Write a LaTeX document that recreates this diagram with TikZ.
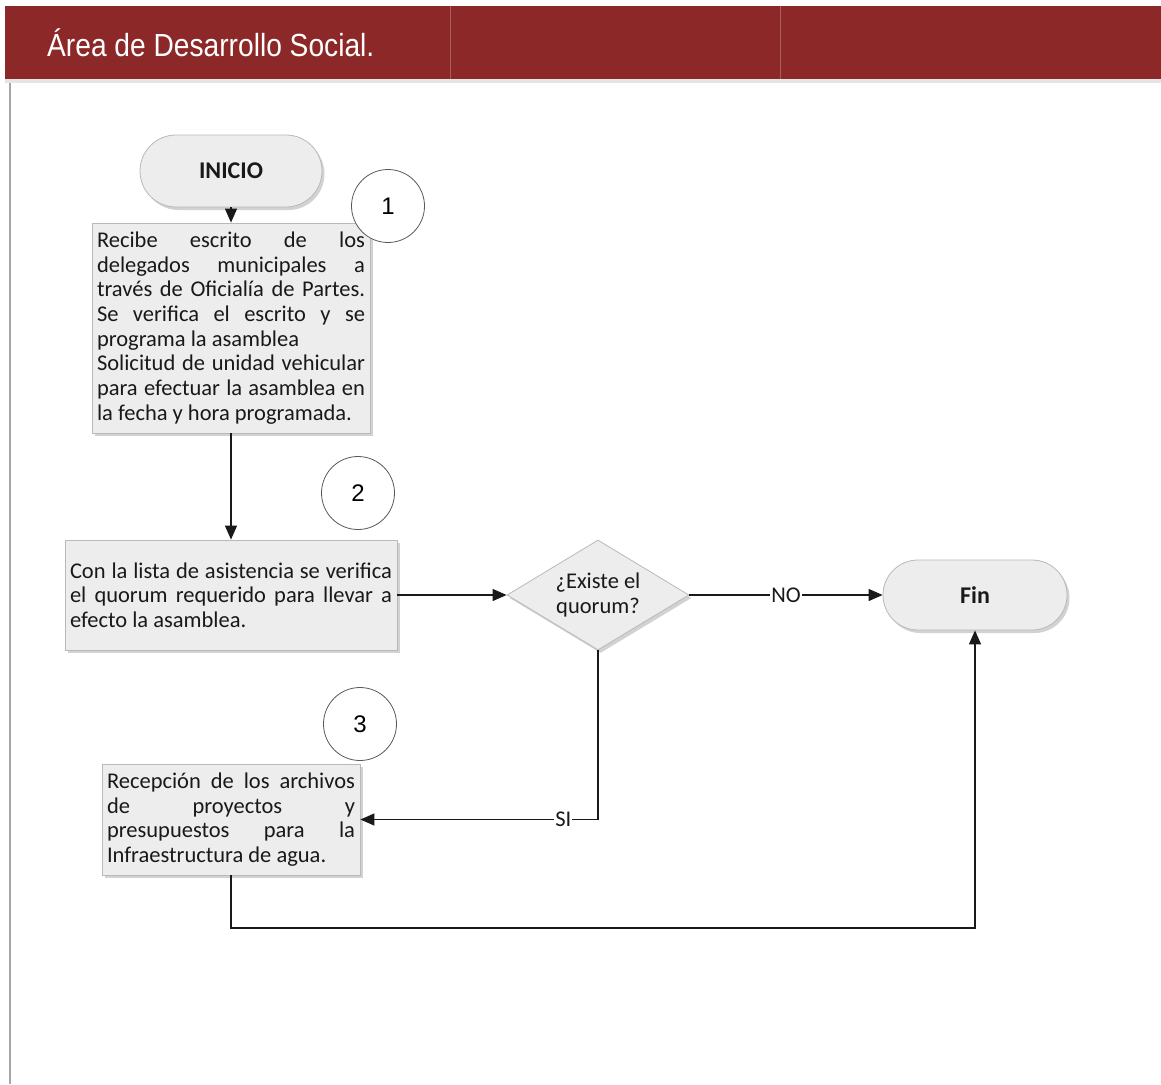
\documentclass[tikz,border=0pt]{standalone}
\usepackage{fontspec}
\setmainfont{Carlito}
\newfontfamily\titlefont[FakeStretch=0.88]{Liberation Sans}
\newfontfamily\numfont{Liberation Sans}
\usetikzlibrary{arrows.meta,shapes.geometric,shapes.misc,shadows}

\definecolor{band}{RGB}{140,40,40}
\definecolor{bandrule}{RGB}{172,92,92}
\definecolor{shapefill}{RGB}{237,237,237}
\definecolor{shapeedge}{RGB}{185,185,185}
\definecolor{ink}{RGB}{25,25,25}

\tikzset{
  body/.style={font=\fontsize{22.5}{24.7}\selectfont, text=ink},
  shaded/.style={draw=shapeedge, fill=shapefill, line width=0.8pt,
    drop shadow={shadow xshift=2.5pt, shadow yshift=-3pt, opacity=0.35, fill=black!50}},
  procbox/.style={shaded, body, rectangle, inner sep=0pt},
  terminal/.style={shaded, rounded rectangle, inner sep=0pt,
    font=\bfseries\fontsize{24}{26}\selectfont, text=ink},
  decision/.style={shaded, diamond, aspect=1.65, inner sep=0pt, body, align=center},
  stepnum/.style={circle, draw=black!65, fill=white, line width=0.8pt,
    minimum size=73pt, inner sep=0pt, font=\numfont\fontsize{24}{26}\selectfont},
  conn/.style={draw=ink, line width=1.3pt, -{Triangle[length=14pt,width=12pt]}},
  tag/.style={body, fill=white, inner sep=1pt},
}

\begin{document}
\begin{tikzpicture}[x=1pt,y=-1pt]
\useasboundingbox (0,0) rectangle (1161,1084);
\fill[white] (0,0) rectangle (1161,1084);

% title band
\fill[black!10] (5,79) rectangle (1161,83);
\fill[band] (5,6) rectangle (1161,79);
\draw[bandrule, line width=0.8pt] (450,6) -- (450,79);
\draw[bandrule, line width=0.8pt] (780,6) -- (780,79);
\node[anchor=base west, text=white, inner sep=0pt,
      font=\titlefont\fontsize{32}{36}\selectfont] (title) at (47,56) {Área de Desarrollo Social.};

% left page rule
\draw[black!35, line width=1.5pt] (10,83) -- (10,1084);

% shapes
\node[terminal, minimum width=182pt, minimum height=72pt] (inicio) at (231,171) {INICIO};

\node[procbox, minimum width=278pt, minimum height=210pt] (b1) at (231,328)
  {\parbox{268pt}{Recibe escrito de los\linebreak
   delegados municipales a\linebreak
   través de Oficialía de Partes.\linebreak
   Se verifica el escrito y se\linebreak
   programa la asamblea\\
   Solicitud de unidad vehicular\linebreak
   para efectuar la asamblea en\linebreak
   la fecha y hora programada.}};

\node[procbox, minimum width=332pt, minimum height=110pt] (b2) at (231,595)
  {\parbox{322pt}{Con la lista de asistencia se verifica\linebreak
   el quorum requerido para llevar a\linebreak
   efecto la asamblea.}};

\node[decision, minimum width=182pt, minimum height=110pt] (dq) at (598,595)
  {¿Existe el\\quorum?};

\node[terminal, minimum width=184pt, minimum height=70pt] (fin) at (975,595) {Fin};

\node[procbox, minimum width=258pt, minimum height=111pt] (b3) at (231,819.5)
  {\parbox{248pt}{Recepción de los archivos\linebreak
   de proyectos y\linebreak
   presupuestos para la\linebreak
   Infraestructura de agua.}};

% step numbers
\node[stepnum] (n1) at (388,206) {1};
\node[stepnum] (n2) at (358,493) {2};
\node[stepnum] (n3) at (360,724) {3};

% connectors
\coordinate (low) at (0,928);
\draw[conn] (inicio.south) -- (b1.north);
\draw[conn] (b1.south) -- (b2.north);
\draw[conn] (b2.east) -- (dq.west);
\draw[conn] (dq.east) -- node[tag] (no) {NO} (fin.west);
\draw[conn] (dq.south) |- node[tag, pos=0.573] (si) {SI} (b3.east);
\draw[conn] (b3.south) -- (b3.south |- low) -| (fin.south);
\end{tikzpicture}
\end{document}
